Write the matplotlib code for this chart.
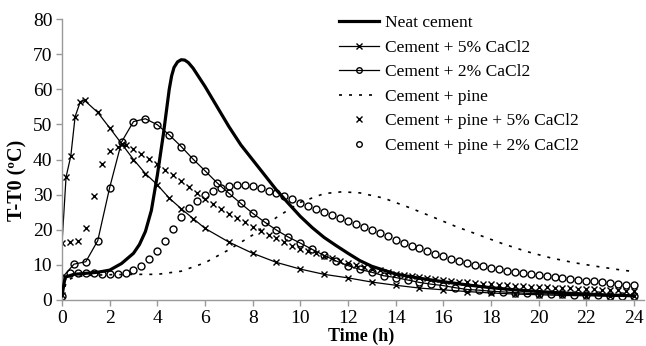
import matplotlib
matplotlib.use("Agg")
import matplotlib.pyplot as plt
import numpy as np

plt.rcParams['font.family'] = ['Liberation Serif', 'DejaVu Serif']

# ---- data ----
neat_t = [0, 0.13, 0.5, 1, 1.5, 2, 2.5, 3, 3.25, 3.5, 3.75, 4, 4.25, 4.5, 4.6, 4.7, 4.85, 5,
          5.15, 5.3, 5.5, 6, 6.5, 7, 7.5, 8, 8.5, 9, 9.5, 10, 10.5, 11, 11.5, 12, 12.5,
          13, 14, 15, 16, 17, 18, 19, 20, 21, 22, 23, 24]
neat_v = [1.2, 6.5, 7.3, 7.6, 7.9, 8.5, 10.4, 13.3, 15.8, 19.5, 25.5, 35.5, 47, 60, 63.8, 66.2, 67.8, 68.4,
          68.3, 67.6, 66.0, 60.8, 55.1, 49.4, 44.2, 39.9, 35.6, 31.3, 27.5, 23.8, 20.6, 17.8, 15.5, 13.3, 11.2,
          9.6, 7.4, 6.2, 5.2, 4.3, 3.5, 2.9, 2.4, 2.0, 1.7, 1.4, 1.2]

c5_t = [0, 0.17, 0.37, 0.55, 0.77, 0.95, 1.5, 2, 2.5, 3, 3.5, 4, 4.5, 5, 5.5, 6,
        7, 8, 9, 10, 11, 12, 13, 14, 15, 16, 17, 18, 19, 20, 21, 22, 23, 24]
c5_v = [16.1, 35, 41, 52.2, 56.5, 56.8, 53.4, 49, 44.5, 40, 36, 32.8, 29, 26, 23.2, 20.4,
        16.5, 13.3, 10.7, 8.8, 7.3, 6.3, 5.1, 4.2, 3.4, 2.9, 2.4, 2.0, 1.7, 1.5, 1.3, 1.2, 1.1, 1.0]

c2_t = [0, 0.5, 1, 1.5, 2, 2.5, 3, 3.5, 4, 4.5, 5, 5.5, 6, 6.5, 7, 7.5, 8, 8.5, 9, 9.5,
        10, 10.5, 11, 11.5, 12, 12.5, 13, 13.5, 14, 14.5, 15, 15.5, 16, 16.5, 17, 17.5,
        18, 18.5, 19, 19.5, 20, 20.5, 21, 21.5, 22, 22.5, 23, 23.5, 24]
c2_v = [6.3, 10.2, 10.9, 16.9, 32, 45, 50.8, 51.6, 49.9, 47, 43.7, 40.1, 36.8, 33.4, 30.4, 27.5,
        24.7, 22.2, 19.9, 17.9, 16.2, 14.4, 12.7, 11.1, 9.8, 8.7, 7.9, 6.9, 6.4, 5.7, 5.0, 4.5,
        4.1, 3.5, 3.0, 2.8, 2.5, 2.3, 2.1, 1.9, 1.8, 1.7, 1.6, 1.5, 1.4, 1.3, 1.2, 1.2, 1.1]

pine_t = [0, 0.2, 0.5, 1, 2, 3, 4, 5, 6, 7, 8, 9, 10, 11, 11.75, 12.5, 13.5, 14.5, 15.5,
          16.5, 17.5, 18.5, 19.5, 20.5, 21.5, 22.5, 23.5, 24]
pine_v = [1.0, 5.5, 6.5, 7.0, 7.2, 7.3, 7.3, 8.2, 10.6, 14.3, 18.5, 23.5, 27.8, 30.3, 30.8, 30.5,
          29.0, 26.5, 23.8, 21.0, 18.5, 16.0, 13.8, 12.0, 10.6, 9.5, 8.5, 8.1]

# Cement + pine + 5% CaCl2, sampled every 1/3 h from 0 to 24
p5_v = [1.5, 16.6, 16.8, 20.6, 29.7, 38.6, 42.5, 43.7, 44.0, 43.0, 41.6, 40.1, 38.7, 37.0,
        35.6, 33.8, 32.3, 30.6, 28.8, 27.4, 25.9, 24.5, 23.3, 22.1, 20.9, 19.7, 18.5, 17.6,
        16.5, 15.5, 14.6, 14.0, 13.3, 12.5, 11.9, 11.2, 10.6, 10.0, 9.4, 8.9, 8.4, 7.9, 7.4,
        7.1, 6.8, 6.5, 6.2, 5.9, 5.7, 5.4, 5.2, 5.0, 4.8, 4.6, 4.5, 4.3, 4.2, 4.0, 3.9, 3.8,
        3.7, 3.6, 3.5, 3.4, 3.3, 3.2, 3.1, 3.0, 2.9, 2.85, 2.75, 2.7, 2.6]
# Cement + pine + 2% CaCl2, sampled every 1/3 h from 0 to 24
p2_v = [1.0, 7.6, 7.7, 7.7, 7.6, 7.4, 7.3, 7.3, 7.8, 8.5, 9.6, 11.6, 14.0, 16.9, 20.2, 23.5,
        26.2, 28.3, 30.0, 31.0, 31.8, 32.5, 32.8, 32.8, 32.5, 31.8, 31.1, 30.4, 29.6, 28.7,
        27.7, 26.8, 25.9, 25.1, 24.3, 23.4, 22.5, 21.6, 20.7, 19.8, 19.0, 18.1, 17.2, 16.3,
        15.5, 14.7, 13.9, 13.1, 12.4, 11.8, 11.2, 10.6, 10.1, 9.6, 9.1, 8.7, 8.3, 8.0, 7.7,
        7.4, 7.1, 6.8, 6.5, 6.3, 6.0, 5.8, 5.5, 5.3, 5.1, 4.9, 4.6, 4.4, 4.2]
p_t = [i / 3 for i in range(73)]

x_ticks = list(range(0, 25, 2))
y_ticks = list(range(0, 81, 10))

labels = ["Neat cement", "Cement + 5% CaCl2", "Cement + 2% CaCl2", "Cement + pine",
          "Cement + pine + 5% CaCl2", "Cement + pine + 2% CaCl2"]

# ---- figure ----
fig = plt.figure(figsize=(6.46, 3.46), dpi=100)
ax = fig.add_axes([62 / 646, 1 - 300 / 346, (643.5 - 62) / 646, (300 - 19) / 346])

h1, = ax.plot(neat_t, neat_v, color='black', lw=2.3, label=labels[0], zorder=5)
h2, = ax.plot(c5_t, c5_v, color='black', lw=0.9, marker='x', ms=5, mew=1.0, label=labels[1])
h3, = ax.plot(c2_t, c2_v, color='black', lw=0.9, marker='o', ms=5, mfc='none', mew=1.0,
              label=labels[2])
h4, = ax.plot(pine_t, pine_v, color='black', lw=1.2, ls=(0, (1.8, 4.2)), label=labels[3])
h5, = ax.plot(p_t, p5_v, color='black', ls='none', marker='x', ms=5, mew=1.0, label=labels[4])
h6, = ax.plot(p_t, p2_v, color='black', ls='none', marker='o', ms=5, mfc='none', mew=1.0,
              label=labels[5])

ax.set_xlim(0, 24.4)
ax.set_ylim(0, 80)
ax.set_xticks(x_ticks)
ax.set_yticks(y_ticks)
for s in ['top', 'right']:
    ax.spines[s].set_visible(False)
for s in ['left', 'bottom']:
    ax.spines[s].set_color('#999999')
    ax.spines[s].set_linewidth(1.0)
ax.tick_params(axis='both', colors='#999999', labelcolor='black', labelsize=14,
               length=4, width=1.0, direction='out', pad=3)

ax.set_xlabel("Time (h)", fontsize=13, fontweight='bold')
ax.xaxis.set_label_coords((361 - 62) / 581.5, (300 - 336) / 281)
ax.set_ylabel("T-T0 (ºC)", fontsize=14.5, fontweight='bold')
ax.yaxis.set_label_coords((17 - 62) / 581.5, (300 - 180) / 281)
ax.xaxis.label.set_va('center')
ax.yaxis.label.set_va('center')

leg = ax.legend(handles=[h1, h2, h3, h4, h5, h6], loc='upper left',
                bbox_to_anchor=(339 / 646, 1 - 15 / 346), bbox_transform=fig.transFigure,
                frameon=False, fontsize=12.5, numpoints=1, handlelength=2.3,
                handletextpad=0.35, labelspacing=0.48, borderaxespad=0, borderpad=0)
for lh in leg.get_lines():
    lh.set_markersize(4)

fig.savefig("out.png", dpi=100)
